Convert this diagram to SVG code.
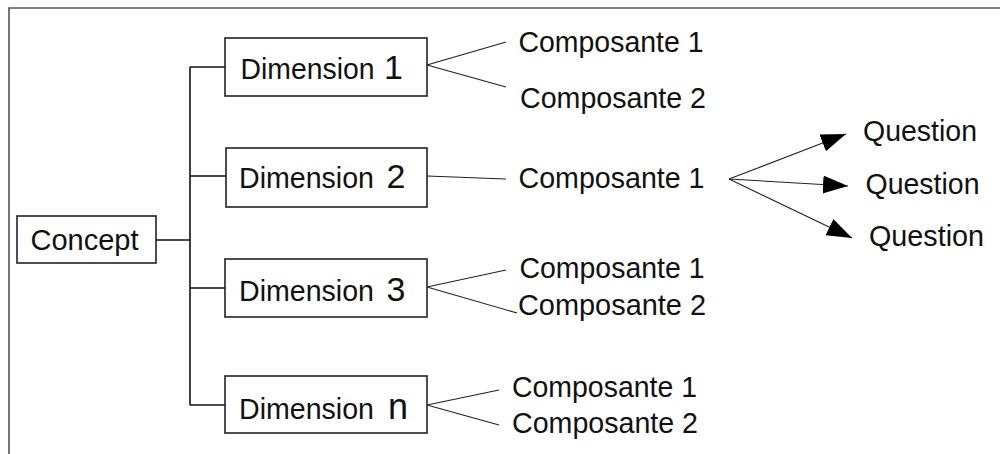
<svg xmlns="http://www.w3.org/2000/svg" width="1000" height="454" viewBox="0 0 1000 454">
<defs>
<style>
.box{fill:#fff;stroke:#222;stroke-width:1.6}
.t{font-family:"Liberation Sans",Arial,sans-serif;font-size:30px;fill:#111}
.num{font-size:34px}
.c{stroke:#111;stroke-width:1.6;fill:none}
.thin{stroke:#222;stroke-width:1.1;fill:none}
.frame{stroke:#555;stroke-width:1.6;fill:none}
</style>
<marker id="ah" markerUnits="userSpaceOnUse" markerWidth="28" markerHeight="20" refX="25" refY="9" orient="auto">
<path d="M0,0 L25,9 L0,18 z" fill="#000"/>
</marker>
</defs>
<rect width="1000" height="454" fill="#fff"/>
<path class="frame" d="M9,454 V8 H1000"/>
<g id="connectors">
<path class="c" d="M156,240 H190 M190,67 V405 M190,67 H225 M190,176 H226 M190,288 H225 M190,405 H225"/>
<path class="thin" d="M506,42 L427,65 L506,87"/>
<path class="thin" d="M427,176 L506,179"/>
<path class="thin" d="M506,270 L427,287 L517,313"/>
<path class="thin" d="M499,390 L427,405 L499,425"/>
<line class="thin" x1="729" y1="179" x2="846" y2="134" marker-end="url(#ah)"/>
<line class="thin" x1="729" y1="179" x2="848" y2="186" marker-end="url(#ah)"/>
<line class="thin" x1="729" y1="179" x2="852" y2="238" marker-end="url(#ah)"/>
</g>
<g id="concept">
<rect class="box" x="17" y="216" width="139" height="47"/>
<text class="t" x="30.5" y="250" textLength="108" lengthAdjust="spacingAndGlyphs">Concept</text>
</g>
<g id="dim1">
<rect class="box" x="225" y="38" width="202" height="58"/>
<text class="t" y="79"><tspan x="240.5" textLength="134" lengthAdjust="spacingAndGlyphs">Dimension</tspan> <tspan class="num" x="384">1</tspan></text>
</g>
<g id="dim2">
<rect class="box" x="226" y="148" width="201" height="59"/>
<text class="t" y="188"><tspan x="239" textLength="135" lengthAdjust="spacingAndGlyphs">Dimension</tspan> <tspan class="num" x="386.5">2</tspan></text>
</g>
<g id="dim3">
<rect class="box" x="225" y="259" width="202" height="58"/>
<text class="t" y="301"><tspan x="239" textLength="135" lengthAdjust="spacingAndGlyphs">Dimension</tspan> <tspan class="num" x="386.5">3</tspan></text>
</g>
<g id="dimn">
<rect class="box" x="225" y="376" width="202" height="57"/>
<text class="t" y="419"><tspan x="239" textLength="135" lengthAdjust="spacingAndGlyphs">Dimension</tspan> <tspan class="num" x="388" style="font-size:36px">n</tspan></text>
</g>
<g id="d1c1"><text class="t" x="518.5" y="52" textLength="185" lengthAdjust="spacingAndGlyphs">Composante 1</text></g>
<g id="d1c2"><text class="t" x="520" y="108" textLength="186" lengthAdjust="spacingAndGlyphs">Composante 2</text></g>
<g id="d2c1"><text class="t" x="518.5" y="188" textLength="186" lengthAdjust="spacingAndGlyphs">Composante 1</text></g>
<g id="d3c1"><text class="t" x="519.5" y="278" textLength="185" lengthAdjust="spacingAndGlyphs">Composante 1</text></g>
<g id="d3c2"><text class="t" x="518" y="315" textLength="188" lengthAdjust="spacingAndGlyphs">Composante 2</text></g>
<g id="dnc1"><text class="t" x="512" y="397" textLength="185" lengthAdjust="spacingAndGlyphs">Composante 1</text></g>
<g id="dnc2"><text class="t" x="512" y="433" textLength="186" lengthAdjust="spacingAndGlyphs">Composante 2</text></g>
<g id="q1"><text class="t" x="863" y="141" textLength="114" lengthAdjust="spacingAndGlyphs">Question</text></g>
<g id="q2"><text class="t" x="865.5" y="194" textLength="114" lengthAdjust="spacingAndGlyphs">Question</text></g>
<g id="q3"><text class="t" x="869" y="246" textLength="115" lengthAdjust="spacingAndGlyphs">Question</text></g>
</svg>
